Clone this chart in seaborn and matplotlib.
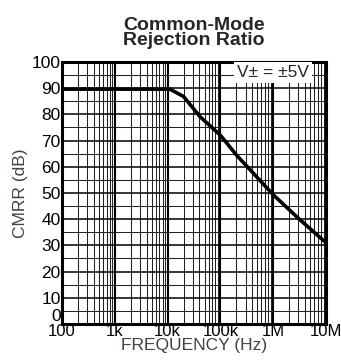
import numpy as np
import pandas as pd
import matplotlib
matplotlib.use('Agg')
import matplotlib.pyplot as plt
from matplotlib.ticker import FixedLocator, LogLocator, MultipleLocator, NullFormatter
import seaborn as sns

# CMRR curve
freq_hz = [100, 1e3, 1e4, 1.1e4, 2e4, 4.1e4, 1e5, 2e5, 3e5, 1e6, 3e6, 1e7]
cmrr_db = [89.6, 89.6, 89.6, 89.6, 86.8, 79.1, 72.0, 64.5, 60.7, 49.3, 40.3, 31.0]

x_ticks = [100, 1e3, 1e4, 1e5, 1e6, 1e7]
x_tick_labels = ['100', '1k', '10k', '100k', '1M', '10M']
y_ticks = list(range(0, 101, 10))

df = pd.DataFrame({'freq': freq_hz, 'cmrr': cmrr_db})

sns.set_style('white')
plt.rcParams['font.family'] = ['Liberation Sans', 'DejaVu Sans']

fig = plt.figure(figsize=(3.41, 3.64), dpi=100)
ax = fig.add_axes([0.182, 0.110, 0.774, 0.720])

ax.set_xscale('log')
ax.set_xlim(100, 1e7)
ax.set_ylim(0, 100)

sns.lineplot(data=df, x='freq', y='cmrr', color='black', linewidth=2.6, ax=ax, zorder=5)

# grid
ax.xaxis.set_major_locator(FixedLocator(x_ticks))
ax.xaxis.set_minor_locator(LogLocator(base=10, subs=np.arange(2, 10), numticks=100))
ax.xaxis.set_minor_formatter(NullFormatter())
ax.yaxis.set_major_locator(FixedLocator(y_ticks))
ax.yaxis.set_minor_locator(MultipleLocator(5))
ax.grid(which='major', axis='x', color='black', linewidth=1.5)
ax.grid(which='minor', axis='x', color='#222222', linewidth=0.75)
ax.grid(which='major', axis='y', color='black', linewidth=1.1)
ax.grid(which='minor', axis='y', color='#222222', linewidth=0.75)
ax.set_axisbelow(True)

ax.set_xticklabels(x_tick_labels)
ax.tick_params(which='both', length=0, colors='black')
ax.tick_params(axis='x', pad=0, labelsize=12)
ax.tick_params(axis='y', pad=1, labelsize=12.5)
# lift the "0" so it sits on the bottom spine like the original
ax.get_yticklabels()[0].set_verticalalignment('bottom')

for s in ax.spines.values():
    s.set_visible(True)
    s.set_color('black')
    s.set_linewidth(2.2)

label_color = '#4a3d48'
ax.set_xlabel('FREQUENCY (Hz)', fontsize=12.5, color=label_color, labelpad=-1)
ax.set_ylabel('CMRR (dB)', fontsize=12.5, color=label_color, labelpad=3)
ax.set_title('Common-Mode\nRejection Ratio', fontsize=14, fontweight='bold',
             linespacing=0.85, pad=12)

ax.text(1e6, 96, 'V\u00b1 = \u00b15V', fontsize=12.5, ha='center', va='center',
        zorder=6, bbox=dict(facecolor='white', edgecolor='none', pad=2))

fig.savefig('out.png', dpi=100)
